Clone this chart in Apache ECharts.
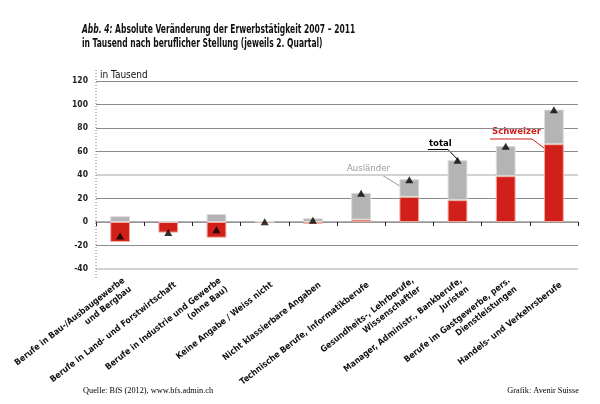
<!DOCTYPE html>
<html>
<head>
<meta charset="utf-8">
<script src="https://cdn.jsdelivr.net/npm/echarts@6/dist/echarts.min.js"></script>
<style>
  html, body { margin: 0; padding: 0; background: #fff; }
  #chart { width: 600px; height: 404px; }
</style>
</head>
<body>
<div id="chart"></div>
<script>
  "use strict";

  // Kategorien (Berufsgruppen)
  var categories = [
    'Berufe in Bau-/Ausbaugewerbe\nund Bergbau',
    'Berufe in Land- und Forstwirtschaft',
    'Berufe in Industrie und Gewerbe\n(ohne Bau)',
    'Keine Angabe / Weiss nicht',
    'Nicht klassierbare Angaben',
    'Technische Berufe, Informatikberufe',
    'Gesundheits-, Lehrberufe,\nWissenschaftler',
    'Manager, Administr., Bankberufe,\nJuristen',
    'Berufe im Gastgewerbe, pers.\nDienstleistungen',
    'Handels- und Verkehrsberufe'
  ];

  // Veränderung in Tausend
  var schweizer = [-17, -9, -13.3, -0.6, -1.5, 2, 21.4, 18.6, 39, 66.2];
  var auslaender = [5, 0.4, 6.8, 0.6, 3.2, 22.8, 15, 34, 25.7, 29.5];
  var total = [-12, -9, -6.5, 0.2, 1.5, 24.5, 36, 52.5, 64.5, 95.5];

  var yTicks = { min: -40, max: 120, interval: 20 };

  var condensed = "'DejaVu Sans Condensed', 'Liberation Sans Narrow', sans-serif";
  var serif = "'Liberation Serif', 'DejaVu Serif', serif";

  var chart = echarts.init(document.getElementById('chart'));

  var option = {
    animation: false,
    backgroundColor: '#fff',
    grid: [
      { left: 96, right: 22, top: 81, bottom: 135, containLabel: false, outerBoundsMode: 'none' },
      // nur für die Kategorienbeschriftung, leicht nach rechts versetzt
      { left: 103, right: 15, top: 81, bottom: 135, containLabel: false, outerBoundsMode: 'none' }
    ],
    xAxis: [
      {
        // Nulllinie mit Strichen zwischen den Kategorien
        type: 'category',
        gridIndex: 0,
        data: categories,
        position: 'bottom',
        axisLine: { onZero: true, lineStyle: { color: '#999', width: 1.5 } },
        axisTick: { show: true, interval: 0, length: 4, lineStyle: { color: '#222', width: 1 } },
        axisLabel: { show: false }
      },
      {
        // Beschriftungen unten
        type: 'category',
        gridIndex: 1,
        data: categories,
        position: 'bottom',
        axisLine: { show: false, onZero: false },
        axisTick: { show: false },
        axisLabel: {
          interval: 0,
          rotate: 38,
          margin: 15,
          fontFamily: condensed,
          fontSize: 8.7,
          fontWeight: 'bold',
          color: '#111',
          lineHeight: 11
        }
      }
    ],
    yAxis: [
      {
        type: 'value',
        gridIndex: 0,
        min: yTicks.min,
        max: yTicks.max,
        interval: yTicks.interval,
        name: 'in Tausend',
        nameLocation: 'end',
        nameGap: 6,
        nameTextStyle: {
          align: 'left',
          verticalAlign: 'middle',
          padding: [0, 0, 0, 4],
          fontFamily: condensed,
          fontSize: 10,
          color: '#111'
        },
        axisLine: { show: false },
        axisTick: { show: false },
        axisLabel: {
          margin: 8,
          fontFamily: condensed,
          fontSize: 8.5,
          fontWeight: 'bold',
          color: '#222'
        },
        splitLine: {
          lineStyle: {
            color: ['#d2d2d2', '#8c8c8c', '#8c8c8c', '#8c8c8c', '#d2d2d2', '#8c8c8c', '#8c8c8c', '#8c8c8c', '#8c8c8c'],
            width: 1
          }
        }
      },
      {
        type: 'value',
        gridIndex: 1,
        min: yTicks.min,
        max: yTicks.max,
        interval: yTicks.interval,
        show: false
      }
    ],
    series: [
      {
        name: 'Schweizer',
        type: 'bar',
        stack: 'x',
        barWidth: '41%',
        data: schweizer,
        itemStyle: { color: '#d11f1a', borderColor: '#f2a79a', borderWidth: 1 },
        markLine: {
          silent: true,
          symbol: 'none',
          label: { show: false },
          lineStyle: { color: '#d2d2d2', width: 2, type: 'solid' },
          z: 1,
          data: [{ yAxis: 40 }, { yAxis: -40 }]
        }
      },
      {
        name: 'Ausländer',
        type: 'bar',
        stack: 'x',
        barWidth: '41%',
        data: auslaender,
        itemStyle: { color: '#b4b4b4', borderColor: '#dcdcdc', borderWidth: 1 }
      },
      {
        name: 'total',
        type: 'scatter',
        symbol: 'triangle',
        symbolSize: [8, 7],
        data: total,
        itemStyle: { color: '#000' },
        z: 5
      }
    ],
    graphic: [
      // Titel (schmal gesetzt)
      {
        type: 'text', x: 82, y: 23, scaleX: 0.647,
        style: {
          text: '{i|Abb. 4:} Absolute Veränderung der Erwerbstätigkeit 2007 – 2011',
          fontFamily: condensed, fontSize: 13, fontWeight: 'bold', fill: '#111',
          rich: { i: { fontFamily: condensed, fontSize: 13, fontWeight: 'bold', fontStyle: 'italic', fill: '#111' } }
        }
      },
      {
        type: 'text', x: 82, y: 37, scaleX: 0.647,
        style: {
          text: 'in Tausend nach beruflicher Stellung (jeweils 2. Quartal)',
          fontFamily: condensed, fontSize: 13, fontWeight: 'bold', fill: '#111'
        }
      },
      // gepunktete Y-Achse
      { type: 'line', shape: { x1: 96, y1: 70, x2: 96, y2: 280 }, style: { stroke: '#777', lineWidth: 1, lineDash: [1, 2] }, z: 10 },
      // Ausländer
      { type: 'text', x: 347, y: 164, style: { text: 'Ausländer', fill: '#999', fontFamily: condensed, fontSize: 9.5 } },
      { type: 'polyline', shape: { points: [[345, 175], [382, 175], [403, 188]] }, style: { stroke: '#999', lineWidth: 1, fill: null } },
      // total
      { type: 'text', x: 429, y: 139, style: { text: 'total', fill: '#000', fontFamily: condensed, fontSize: 9.5, fontWeight: 'bold' } },
      { type: 'polyline', shape: { points: [[428, 149.5], [448, 149.5], [458, 160]] }, style: { stroke: '#000', lineWidth: 1, fill: null } },
      // Schweizer
      { type: 'text', x: 492, y: 127, style: { text: 'Schweizer', fill: '#d11f1a', fontFamily: condensed, fontSize: 9.5, fontWeight: 'bold' } },
      { type: 'polyline', shape: { points: [[490, 139], [532, 139], [544, 148]] }, style: { stroke: '#d11f1a', lineWidth: 1, fill: null } },
      // Fusszeile
      { type: 'text', x: 83, y: 387, style: { text: 'Quelle: BfS (2012), www.bfs.admin.ch', fill: '#000', fontFamily: serif, fontSize: 8.3 } },
      { type: 'text', x: 579, y: 387, style: { text: 'Grafik: Avenir Suisse', fill: '#000', fontFamily: serif, fontSize: 8.3, align: 'right' } }
    ]
  };

  chart.setOption(option);
</script>
</body>
</html>
